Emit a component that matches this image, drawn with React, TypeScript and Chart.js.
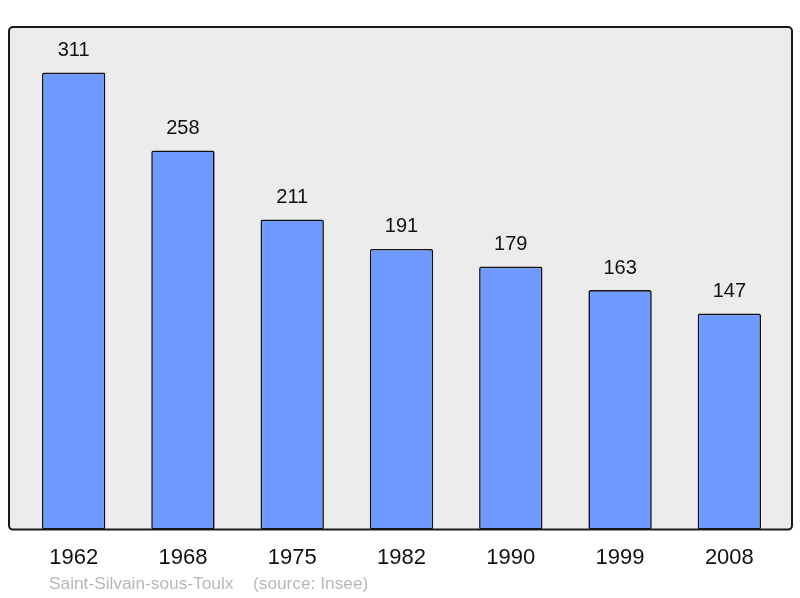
import React, { useEffect, useRef } from "react";
import { Chart, registerables } from "chart.js";

Chart.register(...registerables);

const years = ["1962", "1968", "1975", "1982", "1990", "1999", "2008"];
const population = [311, 258, 211, 191, 179, 163, 147];
const footerName = "Saint-Silvain-sous-Toulx";
const footerSource = "(source: Insee)";
const yMax = 342;

const FONT = "'Liberation Sans', Arial, sans-serif";

const framePlugin = {
  id: "frame",
  beforeDatasetsDraw(chart: any) {
    const { ctx, chartArea } = chart;
    const x0 = 9, x1 = 792, y0 = chartArea.top, y1 = chartArea.bottom;
    ctx.save();
    ctx.beginPath();
    ctx.roundRect(x0, y0, x1 - x0, y1 - y0, 4);
    ctx.fillStyle = "#ececec";
    ctx.fill();
    ctx.restore();
  },
  afterDatasetsDraw(chart: any) {
    const { ctx, chartArea } = chart;
    const x0 = 9, x1 = 792, y0 = chartArea.top, y1 = chartArea.bottom;
    ctx.save();
    ctx.beginPath();
    ctx.roundRect(x0, y0, x1 - x0, y1 - y0, 4);
    ctx.lineWidth = 2;
    ctx.strokeStyle = "#1a1a1a";
    ctx.stroke();
    // value labels
    const meta = chart.getDatasetMeta(0);
    ctx.fillStyle = "#111";
    ctx.font = `20px ${FONT}`;
    ctx.textAlign = "center";
    ctx.textBaseline = "middle";
    meta.data.forEach((bar: any, i: number) => {
      ctx.fillText(String(population[i]), bar.x, bar.y - 22);
    });
    // footer
    ctx.fillStyle = "#b8b8b8";
    ctx.font = `17.3px ${FONT}`;
    ctx.textAlign = "left";
    ctx.fillText(footerName, 49, 584);
    ctx.fillText(footerSource, 253, 584);
    ctx.restore();
  },
};

export default function App() {
  const ref = useRef<HTMLCanvasElement>(null);
  useEffect(() => {
    const chart = new Chart(ref.current!, {
      type: "bar",
      data: {
        labels: years,
        datasets: [
          {
            data: population,
            backgroundColor: "#7099ff",
            borderColor: "#111",
            borderWidth: 1.6,
            borderRadius: 2,
            borderSkipped: false,
            categoryPercentage: 1,
            barPercentage: 0.58,
          },
        ],
      },
      options: {
        animation: false,
        responsive: false,
        layout: { padding: { top: 27, left: 19, right: 16, bottom: 12 } },
        plugins: { legend: { display: false }, tooltip: { enabled: false } },
        scales: {
          x: {
            grid: { display: false, drawTicks: false },
            border: { display: false },
            ticks: { color: "#111", font: { size: 22, family: FONT }, padding: 15 },
          },
          y: { display: false, min: 0, max: yMax },
        },
      },
      plugins: [framePlugin],
    });
    return () => chart.destroy();
  }, []);
  return (
    <div style={{ position: "fixed", left: 0, top: 0, width: 800, height: 598 }}>
      <canvas ref={ref} width={800} height={598} />
    </div>
  );
}
